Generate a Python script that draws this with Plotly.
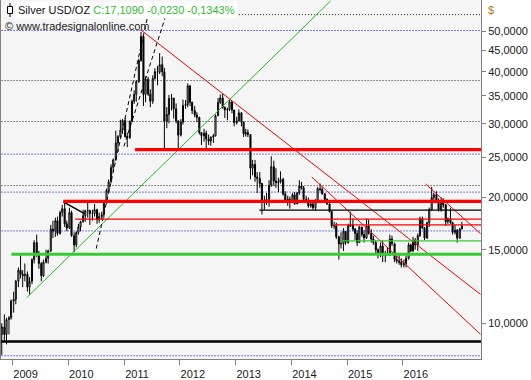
import pandas as pd
import plotly.graph_objects as go

# ---------------- data (semi-monthly candles) ----------------
period_start = "2008-10-15"
first_open = 9.4

highs = [
    10.0, 10.5, 10.3, 10.4, 11.4,
    11.9, 12.7, 13.6, 14.6, 13.4, 13.9, 13.3, 12.9, 14.3, 15.8, 16.3, 14.9, 14.0, 14.2, 15.0, 15.0, 17.2, 17.6, 17.9, 18.0, 18.6, 19.2, 19.5, 17.6,
    18.9, 18.6, 16.5, 16.6, 17.3, 17.6, 18.7, 18.7, 19.5, 18.7, 18.7, 19.3, 18.8, 18.4, 18.5, 19.5, 21.0, 22.1, 24.0, 24.8, 28.9, 28.2, 30.7, 30.8,
    31.0, 28.6, 30.6, 34.3, 36.1, 38.2, 43.0, 49.8, 48.7, 39.0, 38.9, 36.3, 39.2, 40.8, 41.3, 44.3, 43.5, 40.9, 32.9, 35.2, 35.4, 34.6, 33.6, 30.6,
    30.8, 34.3, 34.2, 37.5, 37.2, 33.9, 33.1, 32.0, 31.2, 28.7, 29.2, 28.9, 28.3, 28.0, 28.4, 31.6, 34.6, 35.3, 35.4, 33.0, 32.8, 34.3, 34.0, 32.4,
    31.2, 32.5, 32.0, 30.4, 29.2, 29.1, 28.3, 24.6, 24.6, 23.0, 23.0, 21.7, 20.2, 20.5, 22.0, 25.1, 24.5, 23.5, 22.3, 23.1, 22.3, 20.7, 20.2, 20.1,
    20.5, 20.6, 20.6, 22.0, 21.8, 21.3, 20.2, 20.0, 19.6, 19.6, 19.8, 21.2, 21.6, 21.2, 20.5, 19.9, 19.6, 18.6, 17.5, 17.4, 16.2, 16.5, 16.9, 16.6,
    17.3, 18.5, 17.8, 16.9, 16.7, 17.1, 17.0, 16.7, 17.8, 17.7, 16.8, 16.2, 15.8, 15.1, 15.6, 15.8, 14.9, 15.2, 16.3, 16.2, 15.6, 14.5, 14.7, 14.3,
    14.2, 14.5, 15.6, 15.5, 16.1, 16.0, 16.4, 18.0, 18.0, 17.0, 17.5, 18.9, 21.2, 20.5, 20.7, 19.9, 20.0, 19.9, 19.3, 17.9, 18.9, 17.5, 17.2, 16.8,
    16.9, 17.5,
]
lows = [
    8.4, 9.0, 8.9, 9.4, 10.2,
    10.6, 11.1, 12.2, 12.8, 12.2, 12.6, 11.9, 11.7, 12.4, 13.9, 14.4, 13.5, 12.6, 12.9, 13.9, 13.9, 14.8, 16.0, 16.1, 16.2, 16.3, 18.0, 17.0, 16.6,
    16.8, 16.1, 14.8, 15.2, 16.3, 16.6, 17.4, 17.5, 17.9, 17.2, 17.6, 18.0, 17.3, 17.4, 17.7, 17.9, 19.3, 20.6, 21.7, 23.0, 24.5, 25.7, 27.8, 28.4,
    27.8, 26.4, 27.6, 30.3, 33.5, 33.9, 37.6, 42.3, 33.1, 33.8, 35.0, 32.9, 33.5, 38.3, 37.1, 39.5, 39.0, 26.1, 29.3, 30.1, 32.3, 30.9, 30.1, 26.2,
    28.0, 29.9, 32.6, 32.9, 33.1, 31.7, 31.1, 30.3, 28.3, 26.7, 27.2, 26.1, 26.7, 26.6, 27.0, 28.0, 31.3, 33.5, 32.6, 31.0, 30.6, 32.2, 31.8, 29.6,
    29.9, 30.5, 29.6, 27.9, 28.0, 27.9, 22.1, 22.6, 21.8, 20.5, 21.1, 18.2, 18.7, 19.2, 19.0, 21.2, 21.3, 21.1, 20.6, 21.6, 20.2, 19.4, 19.1, 18.8,
    19.4, 19.2, 19.3, 20.3, 20.9, 19.7, 19.4, 18.9, 18.9, 18.7, 18.6, 19.6, 20.7, 20.3, 19.5, 19.2, 18.4, 16.9, 16.8, 15.9, 14.2, 15.1, 14.9, 15.4,
    15.5, 17.0, 16.6, 15.8, 15.3, 15.6, 16.1, 15.6, 15.9, 16.3, 15.6, 15.4, 14.6, 14.3, 14.4, 14.0, 14.0, 14.5, 14.5, 15.3, 14.0, 13.9, 13.8, 13.6,
    13.6, 13.6, 14.2, 14.8, 14.8, 15.0, 14.9, 16.1, 16.8, 15.8, 15.9, 17.0, 18.6, 19.4, 19.4, 18.5, 18.5, 18.9, 17.1, 17.3, 17.3, 16.3, 16.3, 15.6,
    15.9, 16.8,
]
closes = [
    9.8, 9.4, 10.2, 10.3, 11.3,
    11.4, 12.6, 13.4, 13.1, 13.0, 13.1, 12.2, 12.6, 14.2, 15.6, 14.7, 13.9, 13.0, 14.0, 14.3, 14.9, 16.8, 16.6, 17.6, 16.4, 18.4, 18.8, 17.3, 16.9,
    18.4, 16.2, 15.4, 16.5, 17.0, 17.5, 18.1, 18.6, 18.6, 18.3, 18.3, 18.7, 17.7, 18.0, 18.2, 19.4, 20.8, 21.8, 23.6, 24.6, 27.0, 28.0, 29.0, 30.6,
    28.0, 27.8, 30.4, 34.0, 35.3, 37.9, 42.5, 48.6, 35.3, 38.4, 35.4, 34.0, 38.5, 40.0, 39.9, 41.6, 40.0, 30.4, 31.6, 34.5, 34.6, 32.6, 30.5, 28.2,
    30.3, 33.2, 33.4, 37.0, 33.8, 32.3, 31.5, 31.1, 28.6, 28.1, 28.5, 27.6, 27.3, 27.9, 28.1, 31.4, 33.8, 34.6, 32.9, 32.4, 32.5, 33.9, 32.4, 30.2,
    30.5, 31.9, 30.3, 28.4, 28.6, 28.3, 23.5, 24.0, 22.4, 22.2, 21.6, 19.5, 19.5, 19.8, 21.4, 23.7, 21.9, 21.7, 21.8, 22.1, 20.4, 19.7, 19.8, 19.5,
    20.3, 19.3, 20.5, 21.3, 21.1, 19.8, 19.6, 19.1, 19.3, 18.9, 19.7, 21.0, 20.9, 20.4, 19.8, 19.3, 18.5, 17.1, 17.1, 16.1, 15.5, 15.5, 16.6, 15.6,
    17.1, 17.2, 16.8, 16.4, 15.6, 17.0, 16.3, 16.0, 17.1, 16.4, 15.9, 15.6, 15.0, 14.7, 15.3, 14.6, 14.6, 14.7, 15.9, 15.5, 14.2, 14.1, 14.0, 13.8,
    13.9, 14.3, 15.4, 14.9, 15.8, 15.4, 16.2, 17.8, 16.9, 16.0, 17.4, 18.7, 20.0, 20.3, 19.7, 18.7, 19.5, 19.2, 17.5, 17.8, 17.4, 16.5, 16.7, 16.0,
    16.8, 17.109,
]

# y-axis tick values and labels
y_ticks = [10, 15, 20, 25, 30, 35, 40, 45, 50]
y_tick_text = ["10,0000", "15,0000", "20,0000", "25,0000", "30,0000",
               "35,0000", "40,0000", "45,0000", "50,0000"]
year_ticks = ["2009-01-01", "2010-01-01", "2011-01-01", "2012-01-01",
              "2013-01-01", "2014-01-01", "2015-01-01", "2016-01-01"]
year_labels = ["2009", "2010", "2011", "2012", "2013", "2014", "2015", "2016"]

# horizontal levels: (start date, price)
red_thick_levels = [("2011-03-14", 26.04), ("2009-11-29", 19.57)]
red_thin_levels = [("2010-02-15", 17.75), ("2014-10-05", 17.19)]
black_thin_levels = [("2013-06-05", 18.65)]
green_thick_levels = [("2008-12-24", 14.62)]
green_thin_levels = [("2014-11-26", 15.74)]
black_thick_levels = [("2008-10-01", 9.04)]

# dotted reference levels
black_dotted_levels = [("2012-12-14", 54.8), ("2008-10-01", 38.1), ("2008-10-01", 30.4), ("2008-10-01", 21.36)]
blue_dotted_levels = [50.2, 25.4, 20.6, 16.63, 8.36]

# trend lines: (dates, prices)
green_trend = (["2009-04-03", "2014-09-15"], [11.51, 59.1])
dashed_left = (["2010-07-03", "2011-06-24"], [15.09, 58.5])
dashed_right = (["2010-12-31", "2011-10-14"], [26.5, 56.3])
red_trend_1 = (["2011-04-20", "2017-05-24"], [50.4, 11.72])
red_trend_2 = (["2014-05-14", "2017-05-24"], [22.4, 9.41])
red_trend_3 = (["2016-05-29", "2017-05-24"], [21.55, 16.38])
black_trend = (["2009-11-29", "2010-04-17"], [19.53, 18.29])

x_start, x_end = "2008-10-17", "2017-05-27"
line_end = "2017-07-01"
y_lo, y_hi = 8.21, 59.4

# ---------------- figure ----------------
dates = pd.date_range(period_start, periods=len(closes), freq="SMS") + pd.Timedelta(days=7)
opens = [first_open] + closes[:-1]

fig = go.Figure()

fig.add_trace(go.Candlestick(
    x=dates, open=opens, high=highs, low=lows, close=closes,
    increasing=dict(line=dict(color="black", width=1), fillcolor="white"),
    decreasing=dict(line=dict(color="black", width=1), fillcolor="black"),
    whiskerwidth=0, hoverinfo="skip",
))


def hline(start, price, color, width, dash="solid"):
    fig.add_trace(go.Scatter(x=[start, line_end], y=[price, price], mode="lines",
                             line=dict(color=color, width=width, dash=dash),
                             hoverinfo="skip"))


def seg(pts, color, width, dash="solid"):
    fig.add_trace(go.Scatter(x=pts[0], y=pts[1], mode="lines",
                             line=dict(color=color, width=width, dash=dash),
                             hoverinfo="skip"))


for s, p in black_dotted_levels:
    hline(s, p, "#222222", 1, "1px,2px")
for p in blue_dotted_levels:
    hline("2008-10-01", p, "#0000ee", 1, "1px,2px")

seg(green_trend, "#22bb22", 1)
seg(dashed_left, "black", 1, "4px,3px")
seg(dashed_right, "black", 1, "4px,3px")
seg(red_trend_1, "#ff0000", 1)
seg(red_trend_2, "#ff0000", 1)
seg(red_trend_3, "#ff0000", 1)
seg(black_trend, "black", 1.5)

for s, p in red_thick_levels:
    hline(s, p, "#ff0000", 3.2)
for s, p in red_thin_levels:
    hline(s, p, "#ff0000", 1.2)
for s, p in black_thin_levels:
    hline(s, p, "black", 1.2)
for s, p in green_thick_levels:
    hline(s, p, "#33cc33", 3)
for s, p in green_thin_levels:
    hline(s, p, "#33cc33", 1.3)
for s, p in black_thick_levels:
    hline(s, p, "black", 2.5)

FONT = "Liberation Sans, Arial, sans-serif"
L, R, T, B = 1, 50, 0, 19
PW, PH = 531 - L - R, 380 - T - B

fig.update_layout(
    width=531, height=380,
    margin=dict(l=L, r=R, t=T, b=B, pad=0),
    paper_bgcolor="white", plot_bgcolor="#f5f5f5",
    showlegend=False,
    font=dict(family=FONT, size=11, color="#1a1a1a"),
    xaxis=dict(
        type="date", range=[x_start, x_end], rangeslider=dict(visible=False),
        showgrid=False, zeroline=False,
        tickmode="array", tickvals=year_ticks, ticktext=year_labels,
        ticks="outside", ticklen=5, tickcolor="#808080", tickwidth=1,
        ticklabelshift=13, ticklabelstandoff=0,
        showline=True, linecolor="#808080", linewidth=1, mirror=False,
        tickfont=dict(family=FONT, size=11, color="#1a1a1a"),
    ),
    yaxis=dict(
        type="log", side="right",
        range=[__import__("math").log10(y_lo), __import__("math").log10(y_hi)],
        showgrid=False, zeroline=False,
        tickmode="array", tickvals=y_ticks, ticktext=y_tick_text,
        ticks="outside", ticklen=4, tickcolor="#808080", tickwidth=1,
        showline=True, linecolor="#808080", linewidth=1, mirror=True,
        tickfont=dict(family=FONT, size=11, color="#1a1a1a"),
    ),
)

# header texts
fig.add_annotation(
    xref="paper", yref="paper", x=(15 - L) / PW, y=1 - 10 / PH,
    xanchor="left", yanchor="middle", showarrow=False,
    text="Silver USD/OZ <span style='color:#2ebd2e'>C:17,1090 -0,0230 -0,1343%</span>",
    font=dict(family=FONT, size=11, color="#111111"),
    bgcolor="white", borderpad=2,
)
fig.add_annotation(
    xref="paper", yref="paper", x=(3 - L) / PW, y=1 - 26 / PH,
    xanchor="left", yanchor="middle", showarrow=False,
    text="© www.tradesignalonline.com",
    font=dict(family=FONT, size=11, color="#222222"),
)
fig.add_annotation(
    xref="paper", yref="paper", x=(486 - L) / PW, y=1 - 10 / PH,
    xanchor="left", yanchor="middle", showarrow=False,
    text="$", font=dict(family=FONT, size=11, color="#b07a1a"),
)

# candle icon in header
fig.add_shape(type="line", xref="paper", yref="paper", xsizemode="pixel", ysizemode="pixel",
              xanchor=0, yanchor=1, x0=9, x1=9, y0=-17, y1=-3,
              line=dict(color="black", width=1), layer="above")
fig.add_shape(type="rect", xref="paper", yref="paper", xsizemode="pixel", ysizemode="pixel",
              xanchor=0, yanchor=1, x0=6.5, x1=11.5, y0=-13.5, y1=-6.5,
              line=dict(color="black", width=1), fillcolor="white", layer="above")

fig.write_html("out.html")
